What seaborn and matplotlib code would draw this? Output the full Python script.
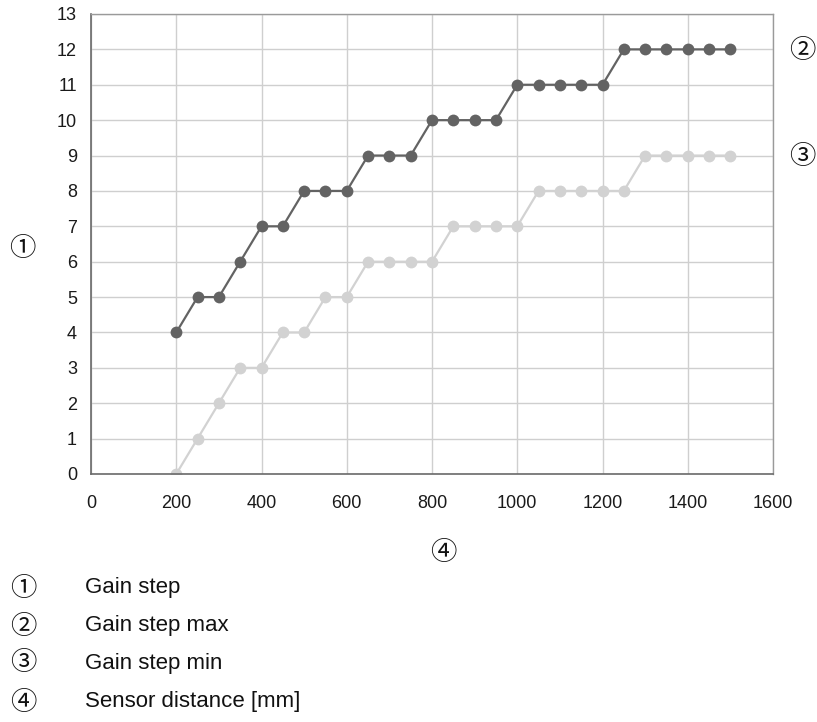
import pandas as pd
import matplotlib.pyplot as plt
import seaborn as sns

# data
distance = [200, 250, 300, 350, 400, 450, 500, 550, 600, 650, 700, 750, 800, 850,
            900, 950, 1000, 1050, 1100, 1150, 1200, 1250, 1300, 1350, 1400, 1450, 1500]
gain_max = [4, 5, 5, 6, 7, 7, 8, 8, 8, 9, 9, 9, 10, 10,
            10, 10, 11, 11, 11, 11, 11, 12, 12, 12, 12, 12, 12]
gain_min = [0, 1, 2, 3, 3, 4, 4, 5, 5, 6, 6, 6, 6, 7,
            7, 7, 7, 8, 8, 8, 8, 8, 9, 9, 9, 9, 9]
x_ticks = [0, 200, 400, 600, 800, 1000, 1200, 1400, 1600]
y_ticks = list(range(0, 14))
legend_items = ["Gain step", "Gain step max", "Gain step min", "Sensor distance [mm]"]
markers_txt = ["\u2460", "\u2461", "\u2462", "\u2463"]

df = pd.concat([
    pd.DataFrame({"distance": distance, "gain": gain_max, "series": "max"}),
    pd.DataFrame({"distance": distance, "gain": gain_min, "series": "min"}),
])

sns.set_style("whitegrid")
plt.rcParams["font.family"] = ["Liberation Sans", "DejaVu Sans"]
circ_font = ["Noto Sans CJK JP", "DejaVu Sans"]

fig = plt.figure(figsize=(8.17, 7.22), dpi=100)
ax = fig.add_axes([91 / 817, 1 - 474 / 722, (773 - 91) / 817, (474 - 14) / 722])

sns.lineplot(data=df, x="distance", y="gain", hue="series",
             palette={"max": "#636363", "min": "#d2d2d2"},
             hue_order=["min", "max"],
             marker="o", markersize=8.5, markeredgewidth=0, linewidth=1.6,
             legend=False, ax=ax)

ax.set_xlim(0, 1600)
ax.set_ylim(0, 13)
ax.set_xticks(x_ticks)
ax.set_yticks(y_ticks)
ax.set_xlabel("")
ax.set_ylabel("")
ax.grid(True, color="#cfcfcf", linewidth=1.0)
ax.tick_params(axis="both", labelsize=13, colors="#9a9a9a", labelcolor="#1a1a1a",
               length=4, width=1.0)
ax.tick_params(axis="x", pad=11)
ax.tick_params(axis="y", pad=6)
for side in ["left", "bottom"]:
    ax.spines[side].set_color("#6a6a6a")
    ax.spines[side].set_linewidth(1.2)
for side in ["top", "right"]:
    ax.spines[side].set_color("#9a9a9a")
    ax.spines[side].set_linewidth(1.0)

# circled callouts around the plot
callouts = [(22, 248), (802, 50), (802, 157), (443, 552)]
for sym, (px, py) in zip(markers_txt, callouts):
    fig.text(px / 817, 1 - py / 722, sym, fontsize=19, family=circ_font,
             ha="center", va="center", color="#111111")

# key below the chart
rows_y = [588, 626, 663, 702]
for sym, label, yy in zip(markers_txt, legend_items, rows_y):
    fig.text(23 / 817, 1 - yy / 722, sym, fontsize=19, family=circ_font,
             ha="center", va="center", color="#111111")
    fig.text(85 / 817, 1 - yy / 722, label, fontsize=16, ha="left", va="center",
             color="#111111")

fig.savefig("out.png", dpi=100)
